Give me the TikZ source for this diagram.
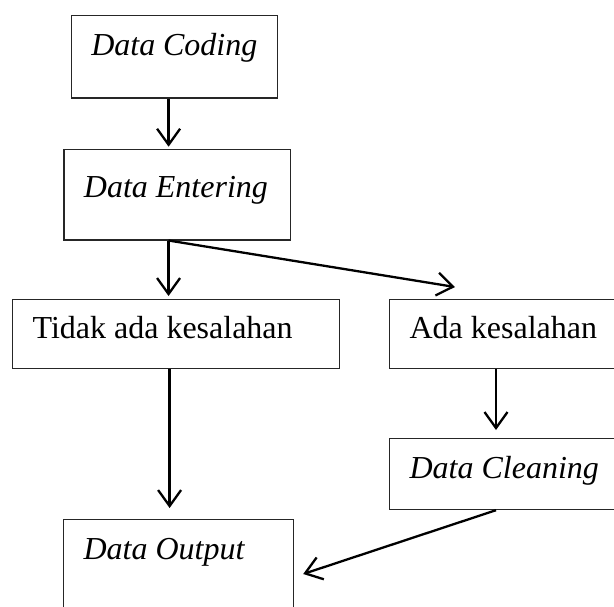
\documentclass[tikz,border=0pt]{standalone}
\usepackage{fontspec}
\setmainfont{Liberation Serif}
\usetikzlibrary{positioning,calc,arrows.meta}

\begin{document}
\begin{tikzpicture}[
					x=1pt, y=-1pt,
					font=\fontsize{32}{36}\selectfont,
					kotak/.style={
						rectangle, draw=black!85, line width=1.2pt,
						anchor=north west, align=flush left,
						inner xsep=20pt, inner ysep=0pt,
						text height=40pt
					},
					panah/.style={
						draw, black, line width=2.3pt,
						-{Straight Barb[length=16pt,width=23pt]}
					}
					]
					\useasboundingbox (0,0) rectangle (614,606);
					\clip (0,0) rectangle (614,606);
					
					% Kotak tahapan pengolahan data
					\node[kotak, text width=166pt, text depth=42.6pt] (coding) at (70.7,14.7) {\textit{Data~Coding}};
					\node[kotak, text width=186.7pt, text height=47.5pt, text depth=42.8pt] (entering) at (63.3,149) {\textit{Data~Entering}};
					\node[kotak, text width=287pt, text height=39pt, text depth=30pt] (tidak) at (12,299) {Tidak ada kesalahan};
					\node[kotak, text width=210pt, text height=39pt, text depth=30pt] (ada) at (389,299) {Ada kesalahan};
					\node[kotak, text width=210pt, text depth=31pt] (cleaning) at (389,438) {\textit{Data~Cleaning}};
					\node[kotak, text width=190pt, text depth=100pt] (output) at (63,519) {\textit{Data~Output}};
					
					% Panah antar tahapan
					\draw[panah, shorten >=2.3pt] ([xshift=-5.7pt]coding.south) -- ([xshift=-5.7pt]coding.south |- entering.north);
					\draw[panah, shorten >=3pt] ([xshift=-8.7pt]entering.south) -- ([xshift=-8.7pt]entering.south |- tidak.north);
					\draw[panah] ([xshift=-8.7pt]entering.south) -- ([shift={(66,-12)}]ada.north west);
					\draw[panah, shorten >=11pt] ([xshift=-6.5pt]tidak.south) -- ([xshift=-6.5pt]tidak.south |- output.north);
					\draw[panah, shorten >=8pt] ([xshift=107pt]ada.south west) -- ([xshift=107pt]ada.south west |- cleaning.north);
					\draw[panah] ([xshift=107pt]cleaning.south west) -- ([shift={(9,55)}]output.north east);
				\end{tikzpicture}
\end{document}
